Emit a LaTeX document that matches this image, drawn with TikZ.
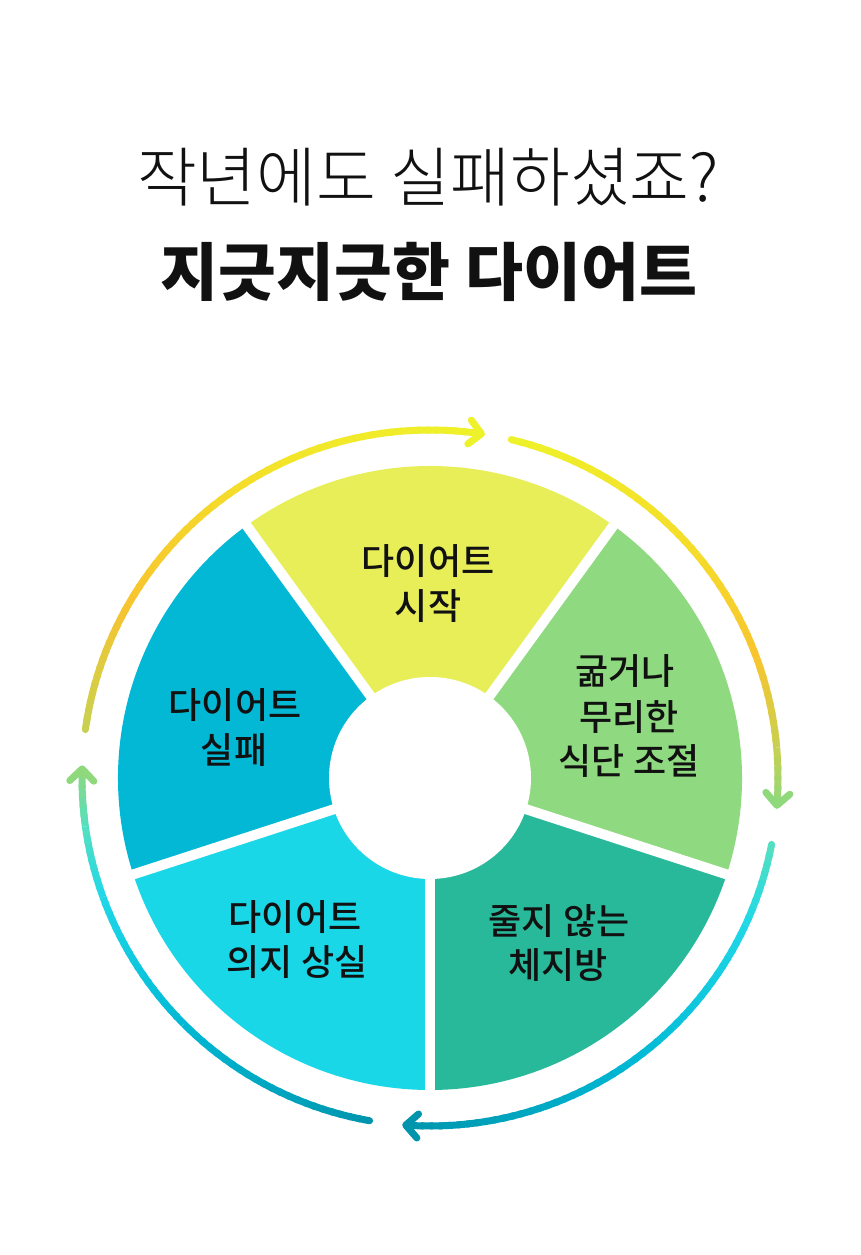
\documentclass[tikz,border=0pt]{standalone}
\usepackage{fontspec}
\IfFontExistsTF{Noto Sans CJK KR Light}{\newfontfamily\lightfont{Noto Sans CJK KR Light}}{\newfontfamily\lightfont{Noto Sans CJK KR}}
\IfFontExistsTF{Noto Sans CJK KR Black}{\newfontfamily\blackfont{Noto Sans CJK KR Black}}{\newfontfamily\blackfont{Noto Sans CJK KR Bold}[FakeBold=3]}
\IfFontExistsTF{Noto Sans CJK KR Medium}{\newfontfamily\medfont{Noto Sans CJK KR Medium}}{\newfontfamily\medfont{Noto Sans CJK KR}[FakeBold=0.6]}
\definecolor{secY}{HTML}{E7EE57}
\definecolor{secG}{HTML}{8FDA80}
\definecolor{secT}{HTML}{28B99B}
\definecolor{secC}{HTML}{1AD7E8}
\definecolor{secB}{HTML}{02B8D5}
\definecolor{gOl}{HTML}{C8D050}
\definecolor{gOr}{HTML}{F8C42E}
\definecolor{gYe}{HTML}{F3E52A}
\definecolor{gLi}{HTML}{EEF22A}
\definecolor{gGo}{HTML}{F5DC2A}
\definecolor{gGr}{HTML}{8FD97C}
\definecolor{gMi}{HTML}{55DFC0}
\definecolor{gCy}{HTML}{1ED8E8}
\definecolor{gBl}{HTML}{00B8D4}
\definecolor{gDk}{HTML}{0095AD}
\definecolor{txt}{HTML}{111111}
\tikzset{
  arcline/.style={line width=7pt,line cap=butt},
  chev/.style={line width=7pt,line cap=round,line join=round},
  sectxt/.style={font=\medfont\fontsize{36}{42}\selectfont,text=txt,anchor=base,inner sep=0pt},
}
\newcommand\gradarc[4]{%
  \pgfmathtruncatemacro\gaN{max(2,round(abs(#2-#1)/1.5))}%
  \foreach \gk in {1,...,\gaN}{%
    \pgfmathsetmacro\gaS{#1+(#2-#1)*(\gk-1)/\gaN}%
    \pgfmathsetmacro\gaE{#1+(#2-#1)*min(\gk+0.35,\gaN)/\gaN}%
    \pgfmathtruncatemacro\gaP{round(100*(\gk-0.5)/\gaN)}%
    \draw[arcline,color=#4!\gaP!#3] (\gaS:348) arc[start angle=\gaS,end angle=\gaE,radius=348];
  }}
\newcommand\arcstart[2]{\fill[#2] (#1:348) circle (3.5);}
\newcommand\arctip[2]{%
  \pgfmathsetmacro\tA{#1+45}\pgfmathsetmacro\tB{#1+135}%
  \draw[chev,#2] ([shift={(\tA:17)}]#1:348) -- (#1:348) -- ([shift={(\tB:17)}]#1:348);}
\begin{document}
\begin{tikzpicture}[x=1pt,y=1pt]
\useasboundingbox (0,0) rectangle (860,1255);
\fill[white] (0,0) rectangle (860,1255);
% titles
\node[font=\lightfont\fontsize{65}{70}\selectfont,text=txt,anchor=base,inner sep=0pt] (title1) at (428,1255-202) {작년에도 실패하셨죠?};
\node[font=\blackfont\fontsize{63}{68}\selectfont,text=txt,anchor=base,inner sep=0pt] (title2) at (429,1255-296) {지긋지긋한 다이어트};
\begin{scope}[shift={(430,477)}]
  % sectors
  \fill[secY] (0,0) -- (54:312) arc[start angle=54,end angle=126,radius=312] -- cycle;
  \fill[secB] (0,0) -- (126:312) arc[start angle=126,end angle=198,radius=312] -- cycle;
  \fill[secC] (0,0) -- (198:312) arc[start angle=198,end angle=270,radius=312] -- cycle;
  \fill[secT] (0,0) -- (270:312) arc[start angle=270,end angle=342,radius=312] -- cycle;
  \fill[secG] (0,0) -- (342:312) arc[start angle=342,end angle=414,radius=312] -- cycle;
  \foreach \a in {54,126,198,270,342}{\draw[white,line width=10pt] (0,0) -- (\a:330);}
  \fill[white] (0,0) circle (101);
  % arc 1
  \gradarc{172}{150}{gOl}{gOr}\gradarc{150}{115}{gOr}{gYe}\gradarc{115}{81.5}{gYe}{gLi}
  \arcstart{172}{gOl}\arctip{81.5}{gLi}
  % arc 2
  \gradarc{76.5}{40}{gLi}{gGo}\gradarc{40}{20}{gGo}{gOr}\gradarc{20}{5}{gOr}{gOl}\gradarc{5}{-4.5}{gOl}{gGr}
  \arcstart{76.5}{gLi}\arctip{-4.5}{gGr}
  % arc 3
  \gradarc{-11}{-25}{gMi}{gCy}\gradarc{-25}{-55}{gCy}{gBl}\gradarc{-55}{-94}{gBl}{gDk}
  \arcstart{-11}{gMi}\arctip{-94}{gDk}
  % arc 4
  \gradarc{-100}{-135}{gDk}{gBl}\gradarc{-135}{-160}{gBl}{gCy}\gradarc{-160}{-172}{gCy}{gMi}\gradarc{-172}{-181.5}{gMi}{gGr}
  \arcstart{-100}{gDk}\arctip{-181.5}{gGr}
\end{scope}
% sector labels
\node[sectxt] (y1) at (428,1255-575) {다이어트};
\node[sectxt] (y2) at (428,1255-620) {시작};
\node[sectxt] (g1) at (625,1255-685) {굶거나};
\node[sectxt] (g2) at (629,1255-731) {무리한};
\node[sectxt] (g3) at (629,1255-775) {식단 조절};
\node[sectxt] (b1) at (235,1255-719) {다이어트};
\node[sectxt] (b2) at (234,1255-764) {실패};
\node[sectxt] (c1) at (295,1255-931) {다이어트};
\node[sectxt] (c2) at (297,1255-976) {의지 상실};
\node[sectxt] (t1) at (559,1255-935) {줄지 않는};
\node[sectxt] (t2) at (558,1255-979) {체지방};
\end{tikzpicture}
\end{document}
